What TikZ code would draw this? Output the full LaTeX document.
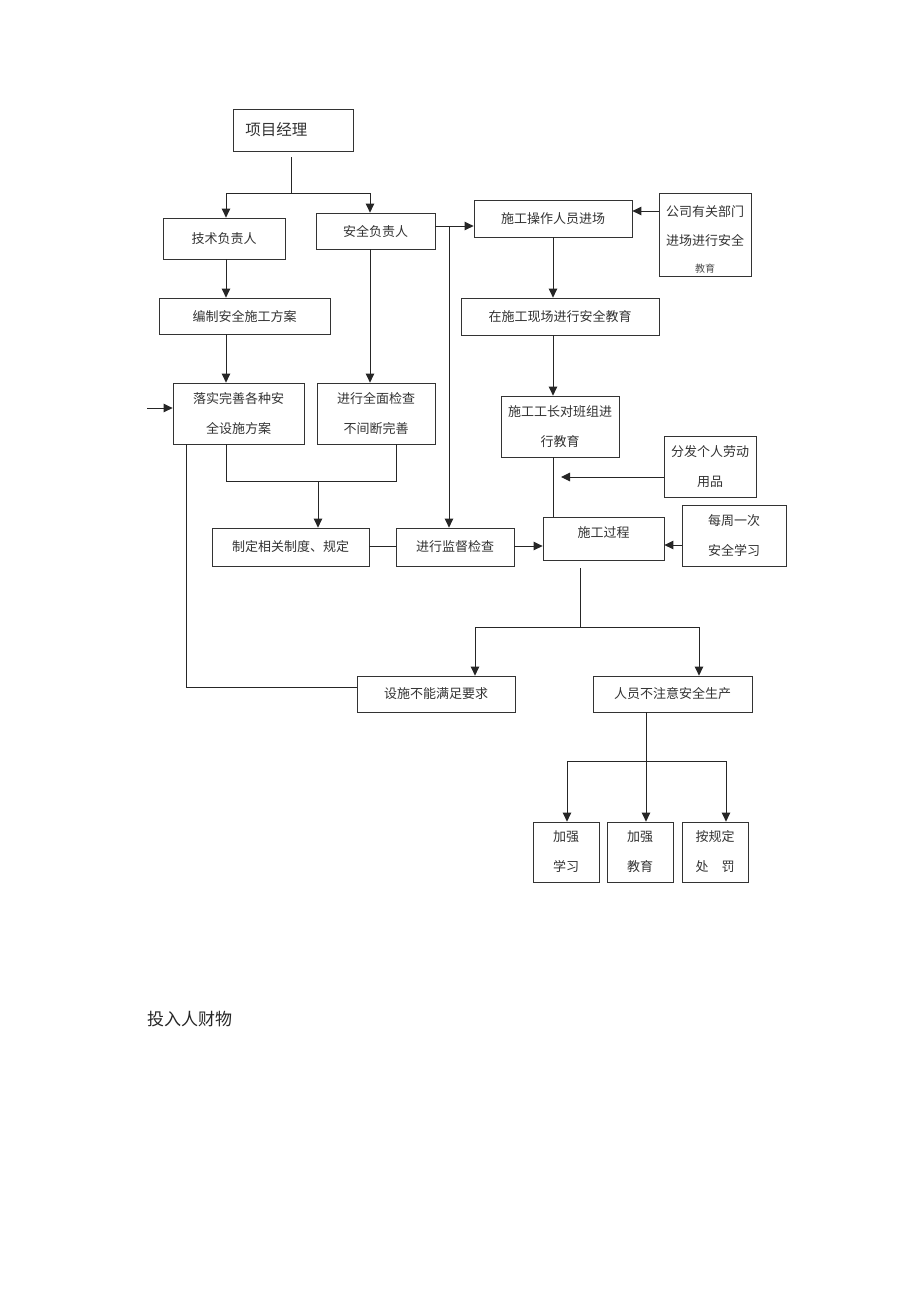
\documentclass[tikz,border=0pt]{standalone}
\usepackage{fontspec}
\newfontfamily\cjk{Noto Sans CJK SC}
\usetikzlibrary{arrows.meta}
\begin{document}
\begin{tikzpicture}[x=1pt,y=-1pt,
  box/.style={draw=black!80, line width=0.8pt, inner sep=0pt, align=center,
    font=\cjk\fontsize{13}{30}\selectfont, text=black!80},
  conn/.style={line width=1pt, draw=black!85},
  arr/.style={conn, -{Triangle[length=9pt,width=8.5pt]}}]
\path[use as bounding box, fill=white] (0,0) rectangle (920,1302);

% boxes
\node[box, anchor=west, minimum height=42, text width=96, inner xsep=12pt, align=left,
  font=\cjk\fontsize{15.5}{20}\selectfont] (pm) at (233,130) {项目经理};
\node[box, minimum width=122, minimum height=41] (tech) at (224,238.5) {技术负责人};
\node[box, minimum width=119, minimum height=36] (safe) at (375.5,231) {安全负责人};
\node[box, minimum width=158, minimum height=37] (entry) at (553,218.5) {施工操作人员进场};
\node[box, minimum width=92, minimum height=83] (company) at (705,234.5) {};
\node[font=\cjk\fontsize{13}{29}\selectfont, text=black!80, align=center, inner sep=0pt]
  (companyt) at (705,226) {公司有关部门\\进场进行安全};
\node[font=\cjk\fontsize{10}{10}\selectfont, text=black!70, inner sep=0pt]
  (companyb) at (705,269) {教育};
\node[box, minimum width=171, minimum height=36] (plan) at (244.5,316) {编制安全施工方案};
\node[box, minimum width=198, minimum height=37] (site) at (560,316.5) {在施工现场进行安全教育};
\node[box, minimum width=131, minimum height=61] (impl) at (238.5,413.5) {落实完善各种安\\全设施方案};
\node[box, minimum width=118, minimum height=61] (check) at (376,413.5) {进行全面检查\\不间断完善};
\node[box, minimum width=118, minimum height=61] (foreman) at (560,426.5) {施工工长对班组进\\行教育};
\node[box, minimum width=92, minimum height=61] (ppe) at (710,466.5) {分发个人劳动\\用品};
\node[box, minimum width=157, minimum height=38] (rules) at (290.5,547) {制定相关制度、规定};
\node[box, minimum width=118, minimum height=38] (super) at (455,547) {进行监督检查};
\node[box, minimum width=121, minimum height=43] (proc) at (603.5,538.5) {};
\node[font=\cjk\fontsize{13}{20}\selectfont, text=black!80, inner sep=0pt] (proct) at (603.5,533) {施工过程};
\node[box, minimum width=104, minimum height=61] (weekly) at (734,535.5) {每周一次\\安全学习};
\node[box, minimum width=158, minimum height=36] (fail) at (436,694) {设施不能满足要求};
\node[box, minimum width=159, minimum height=36] (neg) at (672.5,694) {人员不注意安全生产};
\node[box, minimum width=66, minimum height=60] (s1) at (566,852) {加强\\学习};
\node[box, minimum width=66, minimum height=60] (s2) at (640,852) {加强\\教育};
\node[box, minimum width=66, minimum height=60] (s3) at (715,852) {按规定\\处\quad 罚};

\node[anchor=west, inner sep=0pt, font=\cjk\fontsize{17}{20}\selectfont, text=black!85] (title) at (147,1019) {投入人财物};

% helper coordinates
\coordinate (jT) at (291,193);
\coordinate (jL) at (226,193);
\coordinate (jR) at (370,193);
\coordinate (h226) at (0,226);
\coordinate (v449) at (449,226);
\coordinate (h211) at (0,211);
\coordinate (xE) at (553,0);
\coordinate (pe) at (561,477);
\coordinate (h477) at (0,477);
\coordinate (h545) at (0,545);
\coordinate (h546) at (0,546);
\coordinate (b1) at (226,481);
\coordinate (b2) at (396,481);
\coordinate (b3) at (318,481);
\coordinate (x186) at (186,0);
\coordinate (c1) at (186,687);
\coordinate (h687) at (0,687);
\coordinate (inL) at (147,408);
\coordinate (h408) at (0,408);
\coordinate (p1) at (580,568);
\coordinate (p2) at (580,627);
\coordinate (pL) at (475,627);
\coordinate (pR) at (699,627);
\coordinate (q1) at (646,761);
\coordinate (qL) at (567,761);
\coordinate (qR) at (726,761);

% connectors
\draw[conn, shorten <=6pt] (pm.south -| jT) -- (jT);
\draw[conn] (jL) -- (jR);
\draw[arr] (jL) -- (jL |- tech.north);
\draw[arr] (jR) -- (jR |- safe.north);
\draw[arr] (jL |- tech.south) -- (jL |- plan.north);
\draw[arr] (jL |- plan.south) -- (jL |- impl.north);
\draw[arr] (jR |- safe.south) -- (jR |- check.north);
\draw[arr] (safe.east |- h226) -- (entry.west |- h226);
\draw[arr] (v449) -- (v449 |- super.north);
\draw[arr] (company.west |- h211) -- (entry.east |- h211);
\draw[arr] (entry.south -| xE) -- (site.north -| xE);
\draw[arr] (site.south -| xE) -- (foreman.north -| xE);
\draw[conn] (foreman.south -| xE) -- (proc.north -| xE);
\draw[arr] (ppe.west |- h477) -- (pe);
\draw[arr] (weekly.west |- h545) -- (proc.east |- h545);
\draw[conn] (impl.south -| b1) -- (b1) -- (b2) -- (b2 |- check.south);
\draw[arr] (b3) -- (b3 |- rules.north);
\draw[conn] (rules.east |- h546) -- (super.west |- h546);
\draw[arr] (super.east |- h546) -- (proc.west |- h546);
\draw[conn, line width=0.8pt] (impl.south -| x186) -- (c1) -- (fail.west |- h687);
\draw[arr] (inL) -- (impl.west |- h408);
\draw[conn, line width=0.7pt] (p1) -- (p2);
\draw[conn] (pL) -- (pR);
\draw[arr] (pL) -- (pL |- fail.north);
\draw[arr] (pR) -- (pR |- neg.north);
\draw[conn] (neg.south -| q1) -- (q1);
\draw[conn] (qL) -- (qR);
\draw[arr] (qL) -- (qL |- s1.north);
\draw[arr] (q1) -- (q1 |- s2.north);
\draw[arr] (qR) -- (qR |- s3.north);
\end{tikzpicture}
\end{document}
